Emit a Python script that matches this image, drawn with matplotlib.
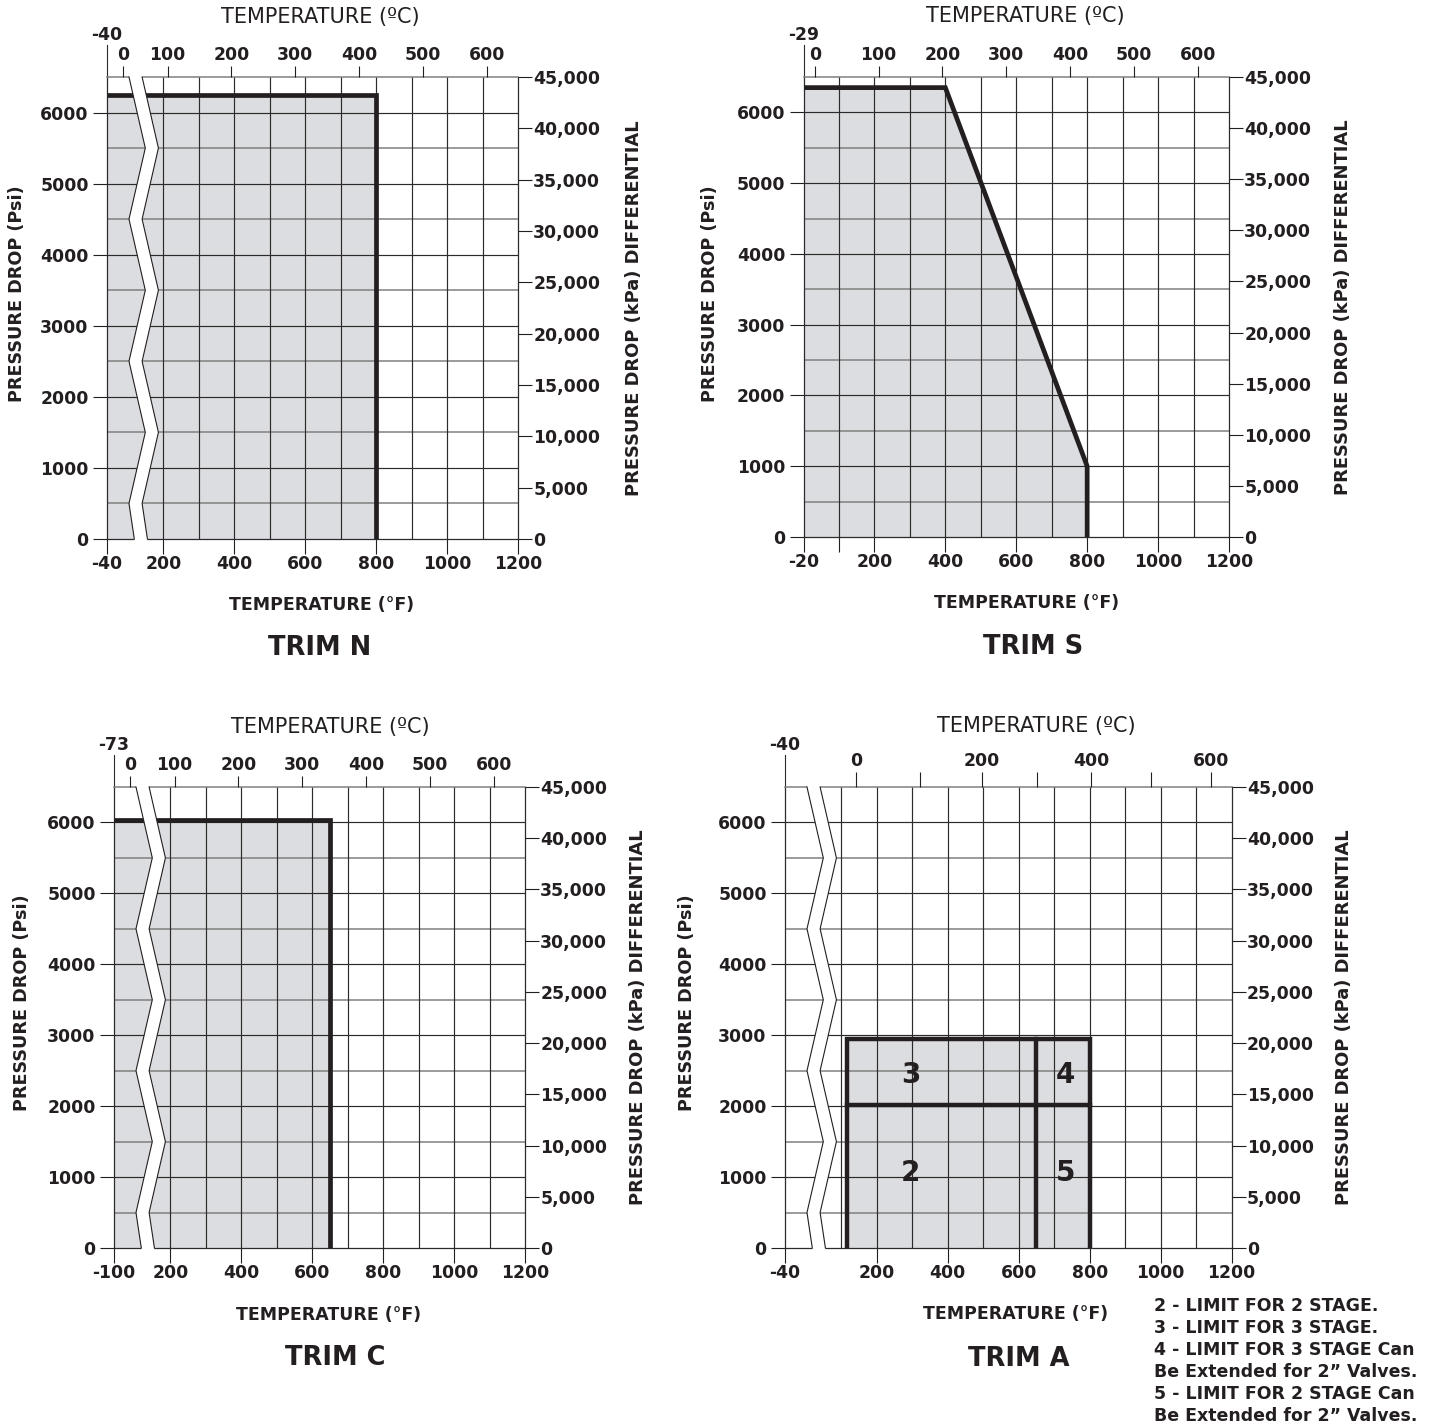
import matplotlib
matplotlib.use("Agg")
import matplotlib.pyplot as plt
from matplotlib.transforms import blended_transform_factory
import numpy as np

plt.rcParams['font.family'] = ['DejaVu Sans']
plt.rcParams['font.weight'] = 'bold'

W, H, DPI = 1440, 1426, 100
INK = '#231f20'
FILL = '#dcdde0'
GRID_DARK = '#2b2b2b'
GRID_LIGHT = '#808080'
TICK_FS = 12.4

# ---------------- data ----------------
psi_ticks = [0, 1000, 2000, 3000, 4000, 5000, 6000]
psi_labels = ['0', '1000', '2000', '3000', '4000', '5000', '6000']
kpa_ticks = [0, 5000, 10000, 15000, 20000, 25000, 30000, 35000, 40000, 45000]
kpa_labels = ['0', '5,000', '10,000', '15,000', '20,000', '25,000',
              '30,000', '35,000', '40,000', '45,000']
celsius_values = [0, 100, 200, 300, 400, 500, 600]
celsius_labels = ['0', '100', '200', '300', '400', '500', '600']

# TRIM N
n_f_ticks = [-40, 200, 400, 600, 800, 1000, 1200]
n_f_labels = ['-40', '200', '400', '600', '800', '1000', '1200']
n_c_left = '-40'
n_limit_temp = [-40, 800, 800]
n_limit_psi = [6250, 6250, 0]

# TRIM S
s_f_ticks = [-20, 100, 200, 400, 600, 800, 1000, 1200]
s_f_labels = ['-20', '', '200', '400', '600', '800', '1000', '1200']
s_c_left = '-29'
s_limit_temp = [-20, 400, 800, 800]
s_limit_psi = [6350, 6350, 1000, 0]

# TRIM C
c_f_ticks = [-100, 200, 400, 600, 800, 1000, 1200]
c_f_labels = ['-100', '200', '400', '600', '800', '1000', '1200']
c_c_left = '-73'
c_limit_temp = [-100, 650, 650]
c_limit_psi = [6035, 6035, 0]

# TRIM A
a_f_ticks = [-40, 200, 400, 600, 800, 1000, 1200]
a_f_labels = ['-40', '200', '400', '600', '800', '1000', '1200']
a_c_left = '-40'
a_c_tick_pos = [141, 323, 497, 651, 805, 973, 1141]  # as drawn on the top scale
a_c_labels = ['0', '', '200', '', '400', '', '600']
a_box_temp = [115, 800]
a_box_psi = [0, 2950]
a_split_temp = 650
a_split_psi = 2020
a_zone_ids = ['3', '4', '2', '5']
a_zone_temp = [295, 733, 295, 733]
a_zone_psi = [2440, 2440, 1060, 1060]

notes = ['2 - LIMIT FOR 2 STAGE.', '3 - LIMIT FOR 3 STAGE.',
         '4 - LIMIT FOR 3 STAGE Can', 'Be Extended for 2\u201d Valves.',
         '5 - LIMIT FOR 2 STAGE Can', 'Be Extended for 2\u201d Valves.']

# ---------------- layout ----------------
fig = plt.figure(figsize=(W / DPI, H / DPI), dpi=DPI)
fig.patch.set_facecolor('white')


def c_to_f(c):
    return c * 9.0 / 5.0 + 32.0


panels = [
    dict(name='TRIM N', rect=(107, 518, 77, 539), x_edge=41, f_left=-40, broken=True,
         grid_start=200, f_ticks=n_f_ticks, f_labels=n_f_labels, c_left=n_c_left,
         c_pos=None, c_labels=celsius_labels, top_len=8,
         limit=(n_limit_temp, n_limit_psi),
         t_c=(320, 17), t_f=(322, 605), t_trim=(320, 648), yl=(17, 294), yr=(634, 308)),
    dict(name='TRIM S', rect=(803.5, 1229, 77, 537), x_edge=0, f_left=-20, broken=False,
         grid_start=100, f_ticks=s_f_ticks, f_labels=s_f_labels, c_left=s_c_left,
         c_pos=None, c_labels=celsius_labels, top_len=8,
         limit=(s_limit_temp, s_limit_psi),
         t_c=(1025, 16), t_f=(1027, 603), t_trim=(1033, 647), yl=(710, 294), yr=(1343, 307)),
    dict(name='TRIM C', rect=(114, 525, 787, 1248), x_edge=41, f_left=-100, broken=True,
         grid_start=200, f_ticks=c_f_ticks, f_labels=c_f_labels, c_left=c_c_left,
         c_pos=None, c_labels=celsius_labels, top_len=8,
         limit=(c_limit_temp, c_limit_psi),
         t_c=(330, 727), t_f=(329, 1315), t_trim=(335, 1358), yl=(22, 1003), yr=(638, 1017)),
    dict(name='TRIM A', rect=(785, 1231.5, 787, 1248), x_edge=-59, f_left=-40, broken=True,
         grid_start=100, f_ticks=a_f_ticks, f_labels=a_f_labels, c_left=a_c_left,
         c_pos=a_c_tick_pos, c_labels=a_c_labels, top_len=10.5,
         limit=None,
         t_c=(1036, 726), t_f=(1016, 1314), t_trim=(1019, 1359), yl=(687, 1003), yr=(1344, 1017)),
]


def to_x(p, t):
    return p['x_edge'] if t == p['f_left'] else t


def draw_panel(p):
    l, r, t, b = p['rect']
    hpx = b - t
    ax = fig.add_axes([l / W, 1 - b / H, (r - l) / W, hpx / H])
    xe = p['x_edge']
    ax.set_xlim(xe, 1200)
    ax.set_ylim(0, 6500)
    ax.set_facecolor('white')

    # grid
    for y in np.arange(500, 6500, 500):
        major = (y % 1000 == 0)
        ax.axhline(y, color=GRID_DARK if major else GRID_LIGHT,
                   lw=0.85 if major else 1.1, zorder=1.5)
    for x in np.arange(p['grid_start'], 1200, 100):
        ax.axvline(x, color=GRID_DARK, lw=0.85, zorder=1.5)
    for side in ['left', 'right', 'bottom']:
        ax.spines[side].set_color(GRID_DARK)
        ax.spines[side].set_linewidth(0.9)
    ax.spines['top'].set_color(GRID_LIGHT)
    ax.spines['top'].set_linewidth(1.1)

    # limits
    if p['limit'] is not None:
        lt, lp = p['limit']
        xs = [to_x(p, v) for v in lt]
        ax.fill(xs + [xs[0]], list(lp) + [0], color=FILL, lw=0, zorder=1)
        ax.plot(xs, lp, color=INK, lw=3.4, solid_joinstyle='miter',
                solid_capstyle='butt', zorder=3)
    else:
        x0, x1 = a_box_temp
        y0, y1 = a_box_psi
        ax.fill([x0, x0, x1, x1], [y0, y1, y1, y0], color=FILL, lw=0, zorder=1)
        kw = dict(color=INK, lw=3.2, solid_joinstyle='miter', solid_capstyle='projecting', zorder=3)
        ax.plot([x0, x0, x1, x1], [y0, y1, y1, y0], **kw)
        ax.plot([a_split_temp, a_split_temp], [y0, y1], **kw)
        ax.plot([x0, x1], [a_split_psi, a_split_psi], **kw)
        for lab, tx, ty in zip(a_zone_ids, a_zone_temp, a_zone_psi):
            ax.text(tx, ty, lab, ha='center', va='center', fontsize=20,
                    color=INK, zorder=6)

    # axis break
    if p['broken']:
        ys = [6500, 5500, 4500, 3500, 2500, 1500, 500, 0]
        offs = [62, 108, 62, 108, 62, 108, 62, 77]
        lx = [xe + o for o in offs]
        rx = [v + 37 for v in lx]
        px_ = [lx[0]] + lx + [lx[-1], rx[-1]] + rx[::-1] + [rx[0]]
        py_ = [6560] + ys + [-40, -40] + ys[::-1] + [6560]
        ax.fill(px_, py_, color='white', lw=0, zorder=4, clip_on=False)
        ax.plot(lx, ys, color=INK, lw=0.8, zorder=4.5, clip_on=False)
        ax.plot(rx, ys, color=INK, lw=0.8, zorder=4.5, clip_on=False)

    # bottom (°F) axis
    ax.set_xticks([to_x(p, v) for v in p['f_ticks']])
    ax.set_xticklabels(p['f_labels'])
    ax.tick_params(axis='x', direction='out', length=10.8, width=0.8, pad=0.5,
                   labelsize=TICK_FS, colors=INK)
    # left (psi) axis
    ax.set_yticks(psi_ticks)
    ax.set_yticklabels(psi_labels)
    ax.tick_params(axis='y', direction='out', length=10, width=0.8, pad=3.2,
                   labelsize=TICK_FS, colors=INK)

    # right (kPa) axis
    axr = ax.twinx()
    axr.set_ylim(0, 45000)
    axr.set_yticks(kpa_ticks)
    axr.set_yticklabels(kpa_labels)
    axr.tick_params(axis='y', direction='out', length=10, width=0.8, pad=1,
                    labelsize=TICK_FS, colors=INK)
    for s in axr.spines.values():
        s.set_visible(False)

    # top (°C) axis
    axt = ax.twiny()
    axt.set_xlim(xe, 1200)
    if p['c_pos'] is None:
        if p['broken']:
            cpos = [xe + 45] + [c_to_f(c) for c in celsius_values[1:]]
        else:
            cpos = [c_to_f(c) for c in celsius_values]
    else:
        cpos = p['c_pos']
    axt.set_xticks(cpos)
    axt.set_xticklabels(p['c_labels'])
    axt.tick_params(axis='x', direction='out', length=p['top_len'], width=0.8, pad=1.5,
                    labelsize=TICK_FS, colors=INK)
    for s in axt.spines.values():
        s.set_visible(False)

    # left-edge long tick on the top scale
    trans = blended_transform_factory(ax.transData, ax.transAxes)
    ax.plot([xe, xe], [1, 1 + 32 / hpx], transform=trans, clip_on=False,
            color=GRID_DARK, lw=0.8)
    ax.text(xe, 1 + 42 / hpx, p['c_left'], transform=trans, ha='center', va='center',
            fontsize=TICK_FS, color=INK)

    # texts
    def ft(x, y, s, **kw):
        fig.text(x / W, 1 - y / H, s, color=INK, ha='center', va='center', **kw)

    ft(*p['t_c'], 'TEMPERATURE (ºC)', fontsize=15, fontweight='normal')
    ft(*p['t_f'], 'TEMPERATURE (°F)', fontsize=12.5)
    ft(*p['t_trim'], p['name'], fontsize=18.5)
    ft(*p['yl'], 'PRESSURE DROP (Psi)', fontsize=12.7, rotation=90)
    ft(*p['yr'], 'PRESSURE DROP (kPa) DIFFERENTIAL', fontsize=12.9, rotation=90)


for p in panels:
    draw_panel(p)

note_y = [1306, 1328, 1350, 1372, 1394, 1416]
for s, y in zip(notes, note_y):
    fig.text(1154 / W, 1 - y / H, s, ha='left', va='center', fontsize=12.5, color=INK)

fig.savefig('out.png', dpi=DPI, facecolor='white')
